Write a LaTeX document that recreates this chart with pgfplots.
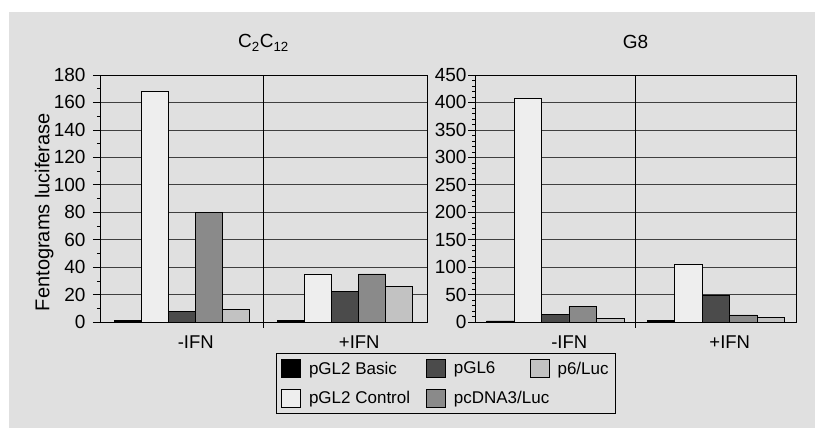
\documentclass[border=0pt]{standalone}
\usepackage{pgfplots}
\pgfplotsset{compat=1.18}
\usepackage{fontspec}
\setmainfont{Liberation Sans}
\definecolor{bg}{HTML}{E0E0E0}
\definecolor{cBasic}{HTML}{000000}
\definecolor{cControl}{HTML}{EEEEEE}
\definecolor{cGL6}{HTML}{4B4B4B}
\definecolor{cDNA}{HTML}{8A8A8A}
\definecolor{cP6}{HTML}{C2C2C2}
\pgfplotsset{
  panel/.style={
    scale only axis, anchor=south west, height=247pt,
    ymin=0, xmin=-0.5, xmax=1.5,
    ybar, tick pos=left,
    axis line style={black, line width=0.8pt},
    xtick={0,1}, xticklabels={-IFN,+IFN},
    x tick style={draw=none},
    xticklabel style={font=\fontsize{18.5}{18.5}\selectfont, xshift=14pt, yshift=-3pt},
    yticklabel style={font=\fontsize{19}{19}\selectfont},
    /pgf/number format/assume math mode=true,
    ytick align=outside, major tick length=7pt, minor tick length=3pt,
    y tick style={black, line width=0.6pt},
    ymajorgrids, major grid style={black!75, line width=0.7pt},
    extra x ticks={0.5}, extra x tick labels={},
    extra x tick style={grid=major, major grid style={black, line width=0.8pt},
      x tick style={draw=black, line width=0.8pt}, tick align=outside, major tick length=6pt},
    title style={font=\fontsize{19}{19}\selectfont, at={(0.5,1)}, anchor=base, yshift=21pt},
    every axis plot/.append style={draw=black, line width=0.7pt},
  }
}
\begin{document}
\begin{tikzpicture}[x=1pt,y=1pt]
\fill[white] (0,0) rectangle (815,428);
\fill[bg] (9,0) rectangle (815,416);
% left panel C2C12
\begin{axis}[panel, at={(100pt,106pt)}, width=327pt, ymax=180,
  ytick={0,20,...,180}, minor y tick num=1,
  bar width=0.165,
  yticklabel style={xshift=-4pt},
  title={C\textsubscript{2}C\textsubscript{12}},
  ylabel={Fentograms luciferase},
  ylabel style={font=\fontsize{20}{20}\selectfont, at={(-0.171,0.445)}, anchor=center},
  legend columns=3, legend cell align=left,
  legend style={at={(1.058,-0.1255)}, anchor=north, fill=bg, draw=black, line width=0.8pt,
    font=\fontsize{17}{17}\selectfont, inner xsep=5pt, inner ysep=6pt, row sep=11pt,
    /tikz/every odd column/.style={column sep=6pt},
    /tikz/every even column/.style={column sep=14pt}},
  legend image code/.code={\draw[#1, line width=0.7pt] (0pt,-9pt) rectangle (19pt,9pt);},
]
\addplot[fill=cBasic, bar shift=-0.33] coordinates {(0,1) (1,1)};
\addlegendentry{pGL2 Basic}
\addplot[fill=cGL6, bar shift=0] coordinates {(0,8) (1,22)};
\addlegendentry{pGL6}
\addplot[fill=cP6, bar shift=0.33] coordinates {(0,9) (1,26)};
\addlegendentry{p6/Luc}
\addplot[fill=cControl, bar shift=-0.165] coordinates {(0,168) (1,35)};
\addlegendentry{pGL2 Control}
\addplot[fill=cDNA, bar shift=0.165] coordinates {(0,80) (1,35)};
\addlegendentry{\makebox[60pt][l]{pcDNA3/Luc}}
\end{axis}
% right panel G8
\begin{axis}[panel, at={(475pt,106pt)}, width=321pt, ymax=450,
  ytick={0,50,...,450}, minor y tick num=4,
  bar width=0.171,
  yticklabel style={xshift=2pt},
  title={G8},
]
\addplot[fill=cBasic, bar shift=-0.342] coordinates {(0,2) (1,3)};
\addplot[fill=cControl, bar shift=-0.171] coordinates {(0,408) (1,105)};
\addplot[fill=cGL6, bar shift=0] coordinates {(0,14) (1,49)};
\addplot[fill=cDNA, bar shift=0.171] coordinates {(0,28) (1,13)};
\addplot[fill=cP6, bar shift=0.342] coordinates {(0,6) (1,9)};
\end{axis}
\end{tikzpicture}
\end{document}
